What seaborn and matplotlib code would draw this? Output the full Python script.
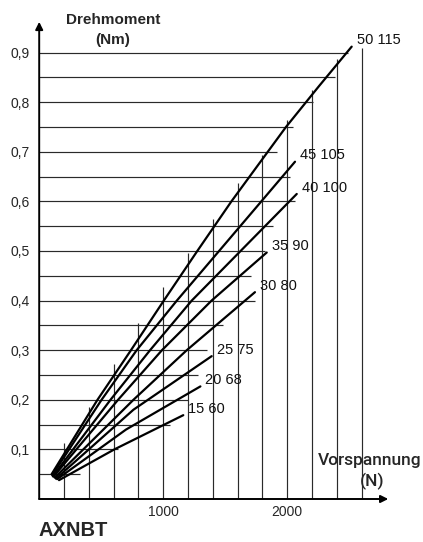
import numpy as np
import pandas as pd
import matplotlib
matplotlib.use("Agg")
import matplotlib.pyplot as plt
import seaborn as sns

# ---------------- data ----------------
series_labels = ["50 115", "45 105", "40 100", "35 90", "30 80", "25 75", "20 68", "15 60"]

x_50_115 = [100, 470, 740, 1005, 1275, 1550, 1990, 2255, 2520]
y_50_115 = [0.050, 0.200, 0.300, 0.400, 0.500, 0.600, 0.750, 0.832, 0.912]
x_45_105 = [105, 503, 786, 1110, 1781, 2063]
y_45_105 = [0.048, 0.200, 0.300, 0.400, 0.597, 0.680]
x_40_100 = [110, 575, 894, 1230, 2077]
y_40_100 = [0.046, 0.200, 0.300, 0.400, 0.615]
x_35_90 = [115, 636, 990, 1390, 1835]
y_35_90 = [0.045, 0.200, 0.300, 0.400, 0.497]
x_30_80 = [125, 760, 1190, 1740]
y_30_80 = [0.043, 0.200, 0.300, 0.417]
x_25_75 = [135, 760, 1391]
y_25_75 = [0.041, 0.180, 0.288]
x_20_68 = [145, 700, 1300]
y_20_68 = [0.040, 0.140, 0.227]
x_15_60 = [160, 606, 1162]
y_15_60 = [0.038, 0.100, 0.169]

# grid lines (staircase grid)
grid_x = [200, 400, 600, 800, 1000, 1200, 1400, 1600, 1800, 2000, 2200, 2400, 2600]
grid_x_top = [0.113, 0.186, 0.272, 0.355, 0.427, 0.496, 0.564, 0.637, 0.694, 0.764, 0.825, 0.887, 0.910]
grid_y = [0.05, 0.10, 0.15, 0.20, 0.25, 0.30, 0.35, 0.40, 0.45,
          0.50, 0.55, 0.60, 0.65, 0.70, 0.75, 0.80, 0.85, 0.90]
grid_y_end = [329, 636, 1055, 1200, 1281, 1353, 1482, 1740, 1710,
              1821, 1885, 2063, 2023, 1918, 2047, 2210, 2386, 2492]

y_ticks = [0.1, 0.2, 0.3, 0.4, 0.5, 0.6, 0.7, 0.8, 0.9]
y_tick_labels = ["0,1", "0,2", "0,3", "0,4", "0,5", "0,6", "0,7", "0,8", "0,9"]
x_ticks = [1000, 2000]
x_tick_labels = ["1000", "2000"]

# ---------------- build table ----------------
xs = [x_50_115, x_45_105, x_40_100, x_35_90, x_30_80, x_25_75, x_20_68, x_15_60]
ys = [y_50_115, y_45_105, y_40_100, y_35_90, y_30_80, y_25_75, y_20_68, y_15_60]
rows = []
for lab, xv, yv in zip(series_labels, xs, ys):
    for i, (a, b) in enumerate(zip(xv, yv)):
        rows.append({"series": lab, "order": i, "Vorspannung": a, "Drehmoment": b})
df = pd.DataFrame(rows)

# ---------------- style ----------------
sns.set_style("white")
plt.rcParams["font.family"] = ["Liberation Sans", "DejaVu Sans"]

W, H = 423, 542
fig = plt.figure(figsize=(W / 100, H / 100), dpi=100)
x0px, y0px = 39.2, 499.0
sx, sy = 0.124, 496.0
xmax, ymax = 2900, 1.0
ax = fig.add_axes([x0px / W, (H - y0px) / H, xmax * sx / W, ymax * sy / H])
ax.set_xlim(0, xmax)
ax.set_ylim(0, ymax)
for s in ax.spines.values():
    s.set_visible(False)

grid_col = "#2a2a2a"
for gx, top in zip(grid_x, grid_x_top):
    ax.vlines(gx, 0, top, color=grid_col, lw=0.85, zorder=1)
for gy, end in zip(grid_y, grid_y_end):
    ax.hlines(gy, 0, end, color=grid_col, lw=0.85, zorder=1)

sns.lineplot(data=df, x="Vorspannung", y="Drehmoment", hue="series",
             units="series", estimator=None, sort=False,
             palette=["black"] * len(series_labels), legend=False,
             lw=1.6, ax=ax, zorder=3)

for lab, xv, yv in zip(series_labels, xs, ys):
    ax.annotate(lab, xy=(xv[-1], yv[-1]), xytext=(3.5, 4.5),
                textcoords="offset points", ha="left", va="center",
                fontsize=10.5, color="#111111")

# axes with arrows
ax.annotate("", xy=(0, 0.962), xytext=(0, 0),
            arrowprops=dict(arrowstyle="-|>", lw=1.4, color="black",
                            mutation_scale=11, shrinkA=0, shrinkB=0),
            annotation_clip=False)
ax.annotate("", xy=(2815, 0), xytext=(0, 0),
            arrowprops=dict(arrowstyle="-|>", lw=1.4, color="black",
                            mutation_scale=11, shrinkA=0, shrinkB=0),
            annotation_clip=False)

ax.set_yticks(y_ticks)
ax.set_yticklabels(y_tick_labels, fontsize=10)
ax.set_xticks(x_ticks)
ax.set_xticklabels(x_tick_labels, fontsize=10)
ax.tick_params(axis="y", length=0, pad=7)
ax.tick_params(axis="x", length=0, pad=4)
ax.set_xlabel("")
ax.set_ylabel("")

def ftext(px, py, s, **kw):
    fig.text(px / W, 1 - py / H, s, **kw)

ftext(113, 20, "Drehmoment", ha="center", va="center", fontsize=11, fontweight="bold")
ftext(113, 40, "(Nm)", ha="center", va="center", fontsize=11, fontweight="bold")
ftext(421, 460, "Vorspannung", ha="right", va="center", fontsize=12.5,
      family=["Roboto", "Liberation Sans"], fontweight="medium")
ftext(372, 481, "(N)", ha="center", va="center", fontsize=12.5,
      family=["Roboto", "Liberation Sans"], fontweight="medium")
ftext(38, 531, "AXNBT", ha="left", va="center", fontsize=14.5, fontweight="bold")

fig.savefig("out.png", dpi=100)
